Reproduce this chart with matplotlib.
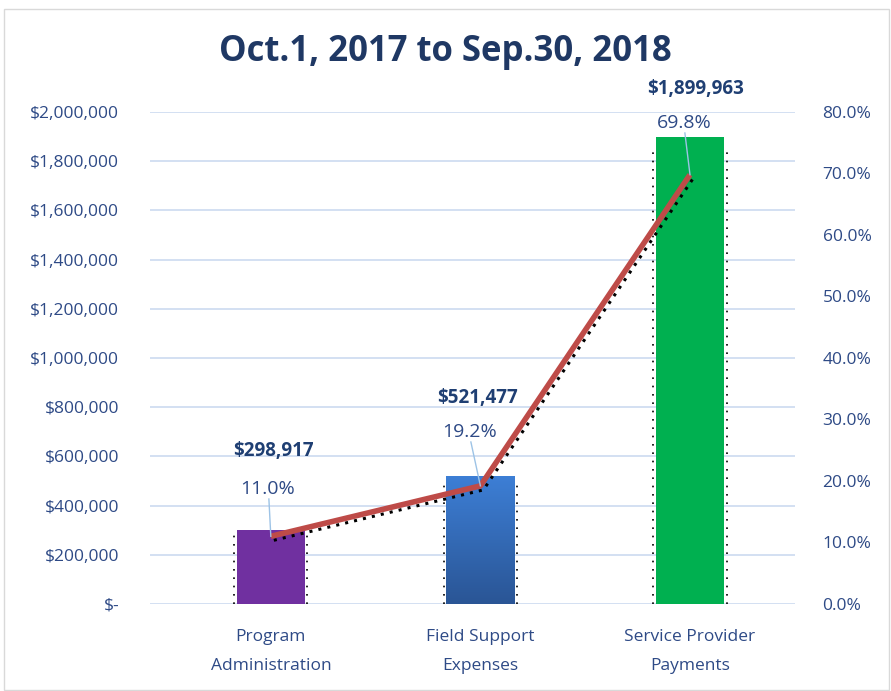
import matplotlib.pyplot as plt
import matplotlib.transforms as mtransforms
import numpy as np
from matplotlib.patches import Rectangle
from matplotlib.colors import LinearSegmentedColormap

plt.rcParams['font.family'] = ['Open Sans', 'DejaVu Sans']

# data
categories = ['Program\nAdministration', 'Field Support\nExpenses', 'Service Provider\nPayments']
amounts = [298917, 521477, 1899963]
shares = [11.0, 19.2, 69.8]
amount_labels = ['$298,917', '$521,477', '$1,899,963']
left_ticks = [0, 200000, 400000, 600000, 800000, 1000000, 1200000, 1400000, 1600000, 1800000, 2000000]
left_tick_labels = ['$-'] + ['${:,}'.format(v) for v in left_ticks[1:]]
right_ticks = [0, 10, 20, 30, 40, 50, 60, 70, 80]

bar_colors = ['#7030A0', '#3A78C9', '#00B050']
txt_col = '#2E4A86'
label_col = '#1F3F73'

fig = plt.figure(figsize=(8.91, 6.91), dpi=100)
fig.patches.append(Rectangle((0.004, 0.002), 0.994, 0.985, transform=fig.transFigure,
                             fill=False, edgecolor='#D9D9D9', linewidth=1))
ax = fig.add_axes([0.168, 0.126, 0.724, 0.712])
ax2 = ax.twinx()

x = np.arange(len(categories))
w = 0.325
bars = ax.bar(x, amounts, width=w, color=bar_colors, zorder=2)

# gradient on the middle bar
grad = np.linspace(0, 1, 256).reshape(-1, 1)
cmap = LinearSegmentedColormap.from_list('b', ['#2A5595', '#3D7FD6'])
im = ax.imshow(grad, cmap=cmap, origin='lower', aspect='auto',
               extent=[x[1] - w / 2, x[1] + w / 2, 0, amounts[1]], zorder=2)
im.set_clip_path(bars[1])

# dotted shadow at bar edges
for xi, a in zip(x, amounts):
    ax.vlines([xi - w / 2 - 0.012, xi + w / 2 + 0.012], 0, a * 0.97, colors='black',
              linestyles=(0, (1, 4)), linewidth=1.2, zorder=1)

ax.set_xlim(-0.578, 2.5)
ax.set_ylim(0, 2000000)
ax.set_yticks(left_ticks)
ax.set_yticklabels(left_tick_labels)
ax.set_xticks(x)
ax.set_xticklabels(categories, linespacing=2.05)
ax.grid(axis='y', color='#CCDAF0', linewidth=1.2, zorder=0)
ax.set_axisbelow(True)

ax2.set_ylim(0, 80)
ax2.set_yticks(right_ticks)
ax2.set_yticklabels(['{:.1f}%'.format(v) for v in right_ticks])

for a in (ax, ax2):
    for s in a.spines.values():
        s.set_visible(False)
    a.tick_params(length=0, labelsize=12.5, colors=txt_col)
ax.tick_params(axis='y', pad=22)
ax2.tick_params(axis='y', pad=20)
ax.tick_params(axis='x', pad=18)

# line with dotted shadow
shadow = mtransforms.offset_copy(ax2.transData, fig=fig, x=3, y=-4, units='dots')
ax2.plot(x, shares, color='black', linestyle=(0, (1, 2)), linewidth=2.2, transform=shadow, zorder=3)
ax2.plot(x, shares, color='#BE4B48', linewidth=4, zorder=4, solid_capstyle='butt')

# data labels with leader lines
amt_pos = [(273, 451), (477, 398), (696, 89)]
pct_pos = [(268, 489), (470, 432), (684, 123)]
for i in range(3):
    fx, fy = amt_pos[i]
    fig.text(fx / 891, 1 - fy / 691, amount_labels[i], ha='center', va='center',
             fontsize=13.5, fontweight='bold', color=label_col)
    px, py = pct_pos[i]
    fig.text(px / 891, 1 - py / 691, '{:.1f}%'.format(shares[i]), ha='center', va='center',
             fontsize=14, color=txt_col)
    # leader line from below the percent label to the point
    x0, y0 = ax2.transData.transform((x[i], shares[i]))
    ly = 1 - (py + 10) / 691
    ax2.plot([px / 891 + 0.001, x0 / 891], [ly, y0 / 691], transform=fig.transFigure,
             color='#9DC3E6', linewidth=1, zorder=5)

fig.text(0.5, 1 - 52 / 691, 'Oct.1, 2017 to Sep.30, 2018', ha='center', va='center',
         fontsize=25, fontweight='bold', color='#1F3864')

fig.savefig('out.png', dpi=100)
